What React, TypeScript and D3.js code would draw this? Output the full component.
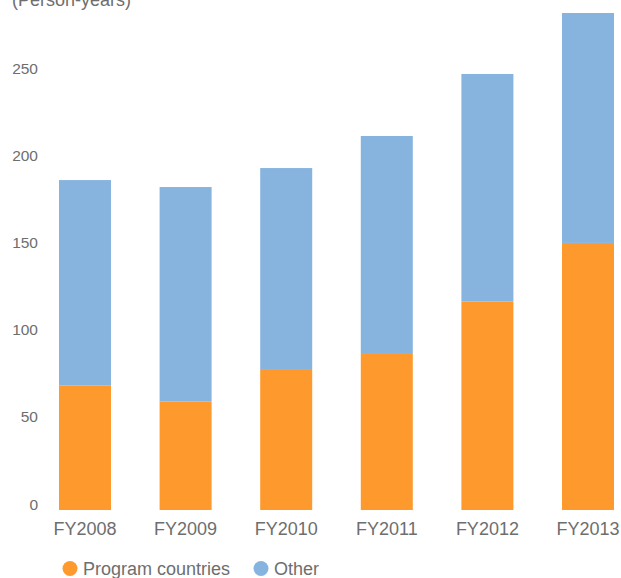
import React from "react";
import * as d3 from "d3";

const categories = ["FY2008", "FY2009", "FY2010", "FY2011", "FY2012", "FY2013"];
const programCountries = [71.4, 62.2, 80.9, 90.1, 119.6, 153.3];
const other = [118.0, 123.2, 115.4, 124.6, 130.7, 132.0];
const yTicks = [0, 50, 100, 150, 200, 250];
const seriesNames = ["Program countries", "Other"];
const colors = ["#FE992E", "#87B4DF"];

const W = 621;
const H = 578;
const FONT = "'Liberation Sans', Arial, Helvetica, sans-serif";
const GRAY = "#6e6e6e";

export default function App() {
  const x = d3
    .scaleBand<string>()
    .domain(categories)
    .range([34.7, 638.3])
    .paddingInner(0.483)
    .paddingOuter(0.2415);
  const y = d3.scaleLinear().domain([0, 250]).range([510, 74.5]);

  const rows = categories.map((c, i) => ({ cat: c, program: programCountries[i], other: other[i] }));
  const stack = d3.stack<any>().keys(["program", "other"])(rows);

  return (
    <svg
      width={W}
      height={H}
      style={{ position: "absolute", left: 0, top: 0, background: "#fff" }}
      fontFamily={FONT}
    >
      <text x={12} y={6} fontSize={18} fill={GRAY}>
        (Person-years)
      </text>
      {yTicks.map((t) => (
        <text key={t} x={38} y={y(t) - 0.5} fontSize={15.5} fill={GRAY} textAnchor="end">
          {t}
        </text>
      ))}
      {stack.map((s, si) => (
        <g key={si} fill={colors[si]}>
          {s.map((d, i) => (
            <rect
              key={i}
              x={x(categories[i])}
              width={x.bandwidth()}
              y={y(d[1])}
              height={y(d[0]) - y(d[1])}
            />
          ))}
        </g>
      ))}
      {categories.map((c) => (
        <text
          key={c}
          x={(x(c) as number) + x.bandwidth() / 2}
          y={535}
          fontSize={18}
          fill={GRAY}
          textAnchor="middle"
        >
          {c}
        </text>
      ))}
      <g>
        <circle cx={70} cy={568.5} r={7.5} fill={colors[0]} />
        <text x={83} y={575} fontSize={18} fill={GRAY}>
          {seriesNames[0]}
        </text>
        <circle cx={261} cy={568.5} r={7.5} fill={colors[1]} />
        <text x={274} y={575} fontSize={18} fill={GRAY}>
          {seriesNames[1]}
        </text>
      </g>
    </svg>
  );
}
